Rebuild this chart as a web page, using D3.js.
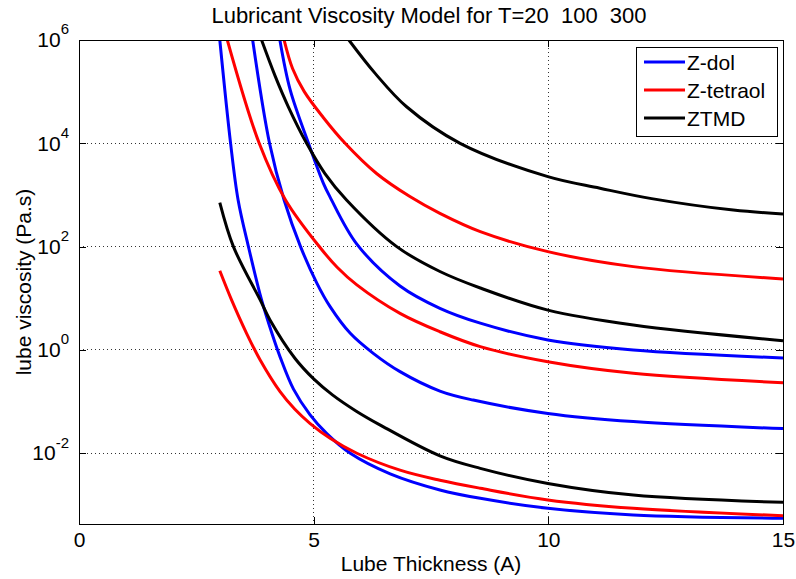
<!DOCTYPE html>
<html>
<head>
<meta charset="utf-8">
<script src="https://cdn.jsdelivr.net/npm/d3@7"></script>
<style>
  body { margin: 0; background: #fff; }
  text { font-family: "Liberation Sans", Arial, sans-serif; }
</style>
</head>
<body>
<svg id="chart" width="796" height="579"></svg>
<script>
// temperatures and lubricants
const temps = ["20", "100", "300"];
const lubeNames = ["Z-dol", "Z-tetraol", "ZTMD"];
const lubeColors = ["#0000ff", "#ff0000", "#000000"];

const xTicks = [0, 5, 10, 15];
const yTicks = [1e-2, 1e0, 1e2, 1e4, 1e6];

// [thickness (A), viscosity (Pa.s)]
const zdol_T20 = [[4.28, 1e6], [4.50, 1.08e5], [4.89, 1e4], [5.21, 1.66e3], [5.35, 9.1e2], [5.92, 112],
  [6.84, 17.3], [7.69, 6.4], [8.55, 3.3], [9.99, 1.56], [11.81, 1.0], [15.0, 0.70]];
const zdol_T100 = [[3.70, 1e6], [4.06, 1e4], [4.37, 8.0e2], [4.72, 100], [5.07, 19.5], [5.35, 6.9],
  [5.78, 2.1], [6.27, 0.86], [6.84, 0.38], [7.69, 0.16], [8.40, 0.107], [9.99, 0.059], [11.81, 0.041], [15.0, 0.030]];
const zdol_T300 = [[3.00, 1e6], [3.23, 1e4], [3.39, 8.0e2], [3.61, 100], [3.89, 9.3], [4.11, 2.1],
  [4.29, 0.71], [4.57, 0.174], [4.92, 0.056], [5.28, 0.024], [5.78, 0.010], [6.63, 4.0e-3],
  [7.69, 1.95e-3], [8.55, 1.34e-3], [9.99, 8.6e-4], [11.81, 6.4e-4], [15.0, 5.5e-4]];

const ztetraol_T20 = [[4.37, 1e6], [4.55, 2.8e5], [4.80, 1e5], [5.20, 3.2e4], [5.67, 1e4], [6.34, 2.6e3],
  [7.05, 9.3e2], [7.69, 4.4e2], [8.55, 1.95e2], [9.99, 80], [11.81, 41], [15.0, 23.7]];
const ztetraol_T100 = [[3.16, 1e6], [3.84, 1e4], [4.40, 8.0e2], [5.14, 95], [5.50, 40], [5.92, 18.2],
  [6.84, 5.1], [7.69, 2.25], [8.55, 1.16], [9.99, 0.59], [11.81, 0.353], [15.0, 0.232]];
const ztetraol_T300 = [[3.00, 34], [3.25, 9.3], [3.57, 2.1], [3.86, 0.64], [4.28, 0.158], [4.60, 0.071],
  [4.92, 0.038], [5.35, 0.0195], [5.92, 0.010], [6.84, 4.7e-3], [7.69, 3.0e-3], [8.55, 2.1e-3],
  [9.99, 1.25e-3], [11.81, 8.6e-4], [15.0, 6.2e-4]];

const ztmd_T20 = [[5.75, 1e6], [6.31, 2.26e5], [6.98, 5.1e4], [8.12, 1e4], [9.99, 2.26e3],
  [11.10, 1.35e3], [12.2, 8.5e2], [13.94, 5.1e2], [15.0, 4.3e2]];
const ztmd_T100 = [[3.89, 1e6], [4.18, 2.0e5], [4.46, 5.1e4], [4.85, 1e4], [5.24, 2.6e3],
  [5.70, 8.0e2], [6.77, 100], [7.69, 33], [8.55, 15.8], [9.99, 5.9], [11.81, 3.04], [15.0, 1.51]];
const ztmd_T300 = [[3.00, 710], [3.29, 100], [3.86, 9.3], [4.07, 3.8], [4.60, 0.69], [5.00, 0.275],
  [5.40, 0.135], [5.90, 0.066], [6.41, 0.0355], [7.69, 8.9e-3], [8.55, 5.1e-3], [9.99, 2.6e-3],
  [11.81, 1.55e-3], [15.0, 1.12e-3]];

// plot order: all Z-dol, then Z-tetraol, then ZTMD
const curves = [
  { lube: 0, data: zdol_T20 }, { lube: 0, data: zdol_T100 }, { lube: 0, data: zdol_T300 },
  { lube: 1, data: ztetraol_T20 }, { lube: 1, data: ztetraol_T100 }, { lube: 1, data: ztetraol_T300 },
  { lube: 2, data: ztmd_T20 }, { lube: 2, data: ztmd_T100 }, { lube: 2, data: ztmd_T300 }
];

const svg = d3.select("#chart");
const W = 796, H = 579;
const margin = { top: 40, right: 13, bottom: 55, left: 79 };
const width = W - margin.left - margin.right;
const height = H - margin.top - margin.bottom;

svg.append("rect").attr("width", W).attr("height", H).attr("fill", "#fff");

const g = svg.append("g").attr("transform", `translate(${margin.left},${margin.top})`);

const x = d3.scaleLinear().domain([0, 15]).range([0, width]);
const y = d3.scaleLog().domain([4.27e-4, 1e6]).range([height, 0]);

// grid (dotted)
const grid = g.append("g").attr("class", "grid");
grid.selectAll("line.gx")
  .data(xTicks.filter(d => d > 0 && d < 15))
  .enter().append("line")
  .attr("x1", d => x(d)).attr("x2", d => x(d))
  .attr("y1", 0).attr("y2", height);
grid.selectAll("line.gy")
  .data(yTicks.filter(d => d < 1e6))
  .enter().append("line")
  .attr("x1", 0).attr("x2", width)
  .attr("y1", d => y(d)).attr("y2", d => y(d));
grid.selectAll("line")
  .attr("stroke", "#333")
  .attr("stroke-width", 1)
  .attr("stroke-dasharray", "1,3")
  .attr("shape-rendering", "crispEdges");

// axes, ticks pointing inward
const tickLen = 7;
const xAxis = g.append("g").attr("transform", `translate(0,${height})`)
  .call(d3.axisBottom(x).tickValues(xTicks).tickSize(-tickLen).tickSizeOuter(0).tickPadding(8));
g.append("g")
  .call(d3.axisTop(x).tickValues(xTicks).tickSize(-tickLen).tickSizeOuter(0).tickFormat(""));
const yAxis = g.append("g")
  .call(d3.axisLeft(y).tickValues(yTicks).tickSize(-tickLen).tickSizeOuter(0).tickPadding(10));
g.append("g").attr("transform", `translate(${width},0)`)
  .call(d3.axisRight(y).tickValues(yTicks).tickSize(-tickLen).tickSizeOuter(0).tickFormat(""));

g.selectAll(".domain").remove();
g.selectAll(".tick line").attr("stroke", "#000").attr("shape-rendering", "crispEdges");

xAxis.selectAll("text")
  .attr("font-size", "21px")
  .attr("fill", "#000");

// y labels as 10 with superscript exponent
yAxis.selectAll(".tick text").each(function (d) {
  const t = d3.select(this);
  const exp = Math.round(Math.log10(d));
  t.text(null).attr("font-size", "21px").attr("fill", "#000");
  t.append("tspan").text("10");
  t.append("tspan").attr("font-size", "15px").attr("dy", "-0.85em").text(exp);
});

// curves
const clipId = "plot-clip";
g.append("clipPath").attr("id", clipId)
  .append("rect").attr("width", width).attr("height", height);

const line = d3.line()
  .x(d => x(d[0]))
  .y(d => y(d[1]))
  .curve(d3.curveCatmullRom.alpha(0.5));

g.append("g").attr("clip-path", `url(#${clipId})`)
  .selectAll("path")
  .data(curves)
  .enter().append("path")
  .attr("d", d => line(d.data))
  .attr("fill", "none")
  .attr("stroke", d => lubeColors[d.lube])
  .attr("stroke-width", 3)
  .attr("stroke-linejoin", "round");

// box
g.append("rect")
  .attr("width", width).attr("height", height)
  .attr("fill", "none").attr("stroke", "#000").attr("stroke-width", 1)
  .attr("shape-rendering", "crispEdges");

// title and labels
svg.append("text")
  .attr("x", 429).attr("y", 23)
  .attr("text-anchor", "middle")
  .attr("font-size", "22px")
  .style("white-space", "pre")
  .text("Lubricant Viscosity Model for T=" + temps.join("  "));

svg.append("text")
  .attr("x", margin.left + width / 2).attr("y", 571)
  .attr("text-anchor", "middle")
  .attr("font-size", "21px")
  .text("Lube Thickness (A)");

svg.append("text")
  .attr("transform", `translate(31,${margin.top + height / 2}) rotate(-90)`)
  .attr("text-anchor", "middle")
  .attr("font-size", "21px")
  .text("lube viscosity (Pa.s)");

// legend
const legend = svg.append("g").attr("transform", "translate(636,47)");
legend.append("rect")
  .attr("width", 141).attr("height", 89)
  .attr("fill", "#fff").attr("stroke", "#000").attr("stroke-width", 1)
  .attr("shape-rendering", "crispEdges");
const items = legend.selectAll("g.item")
  .data(lubeNames)
  .enter().append("g")
  .attr("transform", (d, i) => `translate(0,${15 + i * 28})`);
items.append("line")
  .attr("x1", 8).attr("x2", 49)
  .attr("stroke", (d, i) => lubeColors[i])
  .attr("stroke-width", 3);
items.append("text")
  .attr("x", 51).attr("y", 8)
  .attr("font-size", "21px")
  .text(d => d);
</script>
</body>
</html>
